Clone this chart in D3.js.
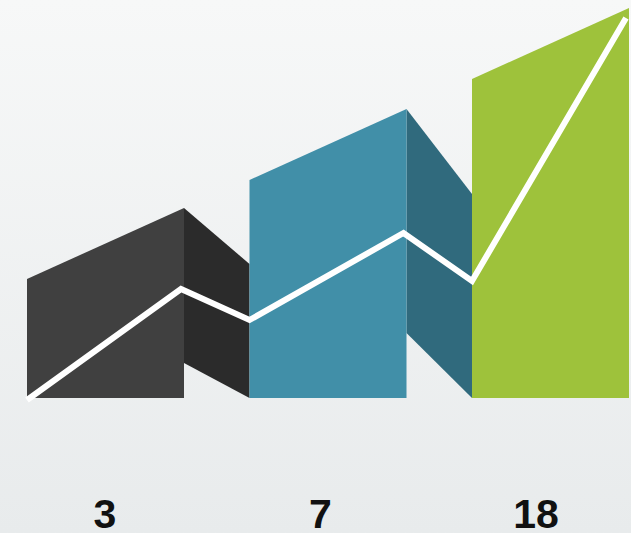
<!DOCTYPE html>
<html>
<head>
<meta charset="utf-8">
<script src="https://cdn.jsdelivr.net/npm/d3@7"></script>
<style>
html,body{margin:0;padding:0;overflow:hidden;}
svg{display:block;}
</style>
</head>
<body>
<script>
// ---- data ----
const categories = ["3", "7", "18"];
const labels = ["3", "7", "18"];
// front face top edge: height at left and right corner
const frontLow  = [119, 218, 319];
const frontHigh = [190, 289, 390];
// side faces (only first two buildings): top-right height, bottom-left height
const sideTopEnd = [134, 204];
const sideBottomStart = [35, 65];
// trend line: height at the start and end of each building
const lineStart = [-2, 78, 117];
const lineEnd   = [109, 165, 380];
const frontColors = ["#404040", "#418fa8", "#9ec23b"];
const sideColors  = ["#2b2b2b", "#306a7d"];

const W = 631, H = 533;
const svg = d3.select("body").append("svg").attr("width", W).attr("height", H);

const defs = svg.append("defs");
const grad = defs.append("linearGradient").attr("id", "bg").attr("x1", 0).attr("y1", 0).attr("x2", 0).attr("y2", 1);
grad.append("stop").attr("offset", "0%").attr("stop-color", "#f7f8f8");
grad.append("stop").attr("offset", "100%").attr("stop-color", "#e8ebec");
svg.append("rect").attr("width", W).attr("height", H).attr("fill", "url(#bg)");

const x = d3.scaleBand().domain(categories).range([27, 629]).paddingInner(0.2944).paddingOuter(0);
const bw = x.bandwidth();
const y = d3.scaleLinear().domain([0, 400]).range([398, -2]);
const labelX = d3.scalePoint().domain(categories).range([105, 536]);

// side faces
const sides = categories.slice(0, 2).map((c, i) => {
  const x0 = x(c) + bw, x1 = x(categories[i + 1]);
  return [[x0, y(frontHigh[i])], [x1, y(sideTopEnd[i])], [x1, y(0)], [x0, y(sideBottomStart[i])]];
});
svg.append("g").selectAll("path").data(sides).join("path")
  .attr("d", d => "M" + d.map(p => p.join(",")).join("L") + "Z")
  .attr("fill", (d, i) => sideColors[i]);

// front faces
svg.append("g").selectAll("path").data(categories).join("path")
  .attr("d", (c, i) => {
    const x0 = x(c), x1 = x(c) + bw;
    return `M${x0},${y(0)}L${x0},${y(frontLow[i])}L${x1},${y(frontHigh[i])}L${x1},${y(0)}Z`;
  })
  .attr("fill", (c, i) => frontColors[i]);

// trend line
const pts = [];
categories.forEach((c, i) => {
  pts.push([x(c), y(lineStart[i])]);
  pts.push([x(c) + bw - 3, y(lineEnd[i])]);
});
svg.append("path")
  .attr("d", d3.line()(pts))
  .attr("fill", "none")
  .attr("stroke", "#ffffff")
  .attr("stroke-width", 6)
  .attr("stroke-linejoin", "miter");

// labels
svg.append("g").selectAll("text").data(labels).join("text")
  .attr("x", (d, i) => labelX(categories[i]))
  .attr("y", 528)
  .attr("text-anchor", "middle")
  .attr("font-family", "'Liberation Sans', Arial, sans-serif")
  .attr("font-weight", "bold")
  .attr("font-size", 41)
  .attr("fill", "#111111")
  .text(d => d);
</script>
</body>
</html>
